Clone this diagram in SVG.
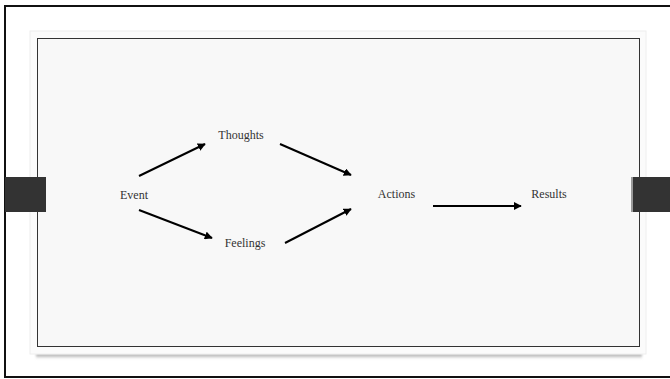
<svg xmlns="http://www.w3.org/2000/svg" width="670" height="379" viewBox="0 0 670 379">
<defs>
<style>
.lbl{font-family:"Liberation Serif","Times New Roman",serif;font-size:12px;fill:#333;text-anchor:middle}
.conn{stroke:#000;stroke-width:2;fill:none;marker-end:url(#ah)}
</style>
<marker id="ah" viewBox="0 0 10 10" refX="9" refY="5" markerWidth="4" markerHeight="4" orient="auto" markerUnits="strokeWidth">
<path d="M0,0 L10,5 L0,10 z" fill="#000"/>
</marker>
<linearGradient id="sh" x1="0" y1="0" x2="0" y2="1">
<stop offset="0" stop-color="#888" stop-opacity="0.9"/>
<stop offset="1" stop-color="#bbb" stop-opacity="0"/>
</linearGradient>
<filter id="blur" x="-5%" y="-100%" width="110%" height="300%">
<feGaussianBlur stdDeviation="1.2"/>
</filter>
</defs>
<rect x="0" y="0" width="670" height="379" fill="#fff"/>
<rect x="5" y="6" width="700" height="371" fill="#fff" stroke="#111" stroke-width="2"/>
<g id="panel">
<rect x="36" y="354" width="606" height="5" fill="url(#sh)" filter="url(#blur)"/>
<rect x="30" y="31" width="616" height="323" fill="#fbfbfb" stroke="#eee" stroke-width="1"/>
<rect x="37.5" y="38.5" width="602" height="308" fill="#f8f8f8" stroke="#333" stroke-width="1"/>
</g>
<g id="tabs">
<rect x="5" y="177" width="41" height="35" fill="#333"/>
<rect x="631" y="177" width="40" height="35" fill="#333"/>
<rect x="631" y="177" width="2" height="35" fill="#999"/>
</g>
<g id="connectors">
<line class="conn" x1="139" y1="176" x2="205" y2="144"/>
<line class="conn" x1="139" y1="210" x2="212" y2="238"/>
<line class="conn" x1="280" y1="144" x2="351" y2="175"/>
<line class="conn" x1="285" y1="243" x2="351" y2="209"/>
<line class="conn" x1="433" y1="206" x2="521" y2="206"/>
</g>
<g id="event"><text class="lbl" x="134" y="199">Event</text></g>
<g id="thoughts"><text class="lbl" x="241" y="139">Thoughts</text></g>
<g id="feelings"><text class="lbl" x="245" y="247">Feelings</text></g>
<g id="actions"><text class="lbl" x="396.5" y="198">Actions</text></g>
<g id="results"><text class="lbl" x="549" y="198">Results</text></g>
</svg>
